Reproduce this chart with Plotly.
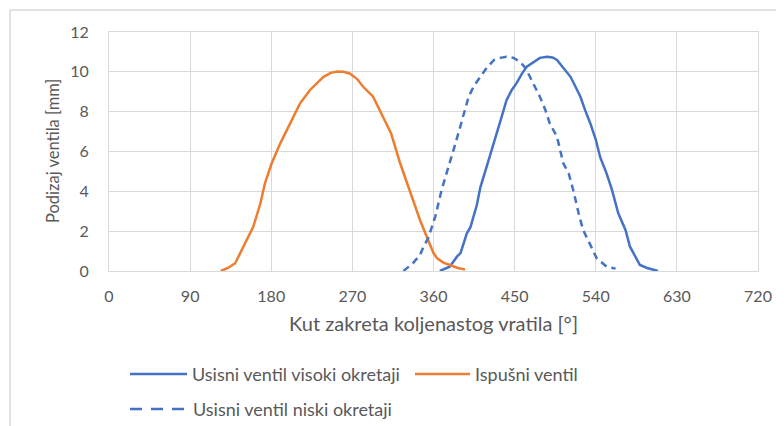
import plotly.graph_objects as go

# ---- data ----
x_ticks = [0, 90, 180, 270, 360, 450, 540, 630, 720]
y_ticks = [0, 2, 4, 6, 8, 10, 12]

ispusni_x = [124, 132, 140, 149, 160, 168, 173, 180.5, 190, 201, 212, 223, 238, 246, 253, 260, 267,
             275, 282, 293, 304, 313, 323, 334, 345, 354, 360, 364, 371, 378, 387, 395]
ispusni_y = [0, 0.15, 0.39, 1.22, 2.22, 3.4, 4.4, 5.41, 6.41, 7.41, 8.42, 9.09, 9.75, 9.95, 10.02, 10.0, 9.92,
             9.65, 9.25, 8.75, 7.75, 6.9, 5.41, 4.0, 2.56, 1.56, 0.9, 0.64, 0.42, 0.3, 0.15, 0.08]

visoki_x = [367, 378, 386, 390, 397, 401, 408, 412, 419, 425, 430, 436, 441, 447, 452, 458, 463.5, 471, 478,
            486, 492, 497, 504, 512, 517, 523, 528, 534, 540, 545, 552, 558, 565, 573, 578, 584, 589, 597, 603, 609]
visoki_y = [0, 0.22, 0.72, 0.9, 1.89, 2.2, 3.3, 4.2, 5.24, 6.1, 6.91, 7.8, 8.58, 9.1, 9.42, 9.9, 10.26, 10.5, 10.7,
            10.76, 10.72, 10.6, 10.2, 9.75, 9.3, 8.75, 8.1, 7.41, 6.6, 5.7, 4.9, 4.07, 2.9, 2.06, 1.22, 0.7, 0.3, 0.15, 0.07, 0]

niski_x = [326.6, 337, 345, 349, 354, 358, 362, 369, 376, 383, 390, 399, 405, 412, 419, 427, 434, 441, 449, 456,
           462, 467, 473, 478, 484, 489, 497, 500.5, 504, 510, 515, 521, 526, 534, 541, 552, 562]
niski_y = [0, 0.38, 0.8, 1.22, 1.64, 2.2, 2.73, 4.07, 5.2, 6.2, 7.3, 8.75, 9.3, 9.75, 10.2, 10.59, 10.7, 10.76, 10.7, 10.5,
           10.2, 9.75, 9.2, 8.75, 8.1, 7.41, 6.74, 6.07, 5.41, 4.9, 4.07, 2.9, 2.06, 1.31, 0.64, 0.22, 0.12]

names = ["Usisni ventil visoki okretaji", "Ispušni ventil", "Usisni ventil niski okretaji"]
x_title = "Kut zakreta koljenastog vratila [°]"
y_title = "Podizaj ventila [mm]"

BLUE = "#4472C4"
ORANGE = "#ED7D31"
GRID = "#d9d9d9"
TXT = "#595959"
FONT = "Lato, Carlito, 'Open Sans', sans-serif"

fig = go.Figure()
fig.add_trace(go.Scatter(x=visoki_x, y=visoki_y, mode="lines", name=names[0],
                         line=dict(color=BLUE, width=2.5), showlegend=False))
fig.add_trace(go.Scatter(x=ispusni_x, y=ispusni_y, mode="lines", name=names[1],
                         line=dict(color=ORANGE, width=2.5), showlegend=False))
fig.add_trace(go.Scatter(x=niski_x, y=niski_y, mode="lines", name=names[2],
                         line=dict(color=BLUE, width=2.5, dash="7px,5px"), showlegend=False))

# the page body has an 8px margin, so the figure is drawn 8px in from the corner
OFF = 8
W, H = 784 - OFF, 426 - OFF
L, T = 109 - OFF, 32 - OFF
R = 784 - 758
B = H - (271 - OFF)
pw, ph = W - L - R, H - T - B


def px(xp):
    return (xp - OFF - L) / pw


def py(yp):
    return (H - B - (yp - OFF)) / ph


fig.update_layout(
    width=W, height=H,
    margin=dict(l=L, r=R, t=T, b=B),
    paper_bgcolor="white", plot_bgcolor="white",
    font=dict(family=FONT, color=TXT, size=16),
    xaxis=dict(range=[0, 720], tickvals=x_ticks, showgrid=True, gridcolor=GRID, gridwidth=1,
               zeroline=False, showline=True, linecolor=GRID, linewidth=1, mirror=True,
               ticks="", ticklabelstandoff=11, tickfont=dict(size=16, color=TXT)),
    yaxis=dict(range=[0, 12], tickvals=y_ticks, showgrid=True, gridcolor=GRID, gridwidth=1,
               zeroline=False, showline=True, linecolor=GRID, linewidth=1, mirror=True,
               ticks="", ticklabelstandoff=16, tickfont=dict(size=16, color=TXT)),
    showlegend=False,
)

shapes = []
# outer chart frame (partially visible: left and top edges)
shapes.append(dict(type="line", xref="paper", yref="paper", x0=px(10), x1=px(800), y0=py(10), y1=py(10),
                   line=dict(color=GRID, width=1.5)))
shapes.append(dict(type="line", xref="paper", yref="paper", x0=px(10), x1=px(10), y0=py(10), y1=py(440),
                   line=dict(color=GRID, width=1.5)))

# legend (custom, to match the long legend keys)
row1, row2 = 374, 409
legend_items = [
    (names[0], BLUE, "solid", 130, 187, row1),
    (names[1], ORANGE, "solid", 415, 470, row1),
    (names[2], BLUE, "12px,9px", 130, 188, row2),
]
annotations = []
for name, col, dash, xa, xb, yr in legend_items:
    shapes.append(dict(type="line", xref="paper", yref="paper", x0=px(xa), x1=px(xb), y0=py(yr), y1=py(yr),
                       line=dict(color=col, width=2.5, dash=dash)))
    annotations.append(dict(text=name, xref="paper", yref="paper", x=px(xb + 3), y=py(yr),
                            xanchor="left", yanchor="middle", showarrow=False,
                            font=dict(size=18, color=TXT, family=FONT)))

annotations.append(dict(text=x_title, xref="paper", yref="paper", x=0.5, y=py(323),
                        xanchor="center", yanchor="middle", showarrow=False,
                        font=dict(size=20, color=TXT, family=FONT)))
annotations.append(dict(text=y_title, xref="paper", yref="paper", x=px(53), y=py(151),
                        xanchor="center", yanchor="middle", showarrow=False, textangle=-90,
                        font=dict(size=16.5, color=TXT, family=FONT)))

fig.update_layout(shapes=shapes, annotations=annotations)

fig.write_html("out.html")
